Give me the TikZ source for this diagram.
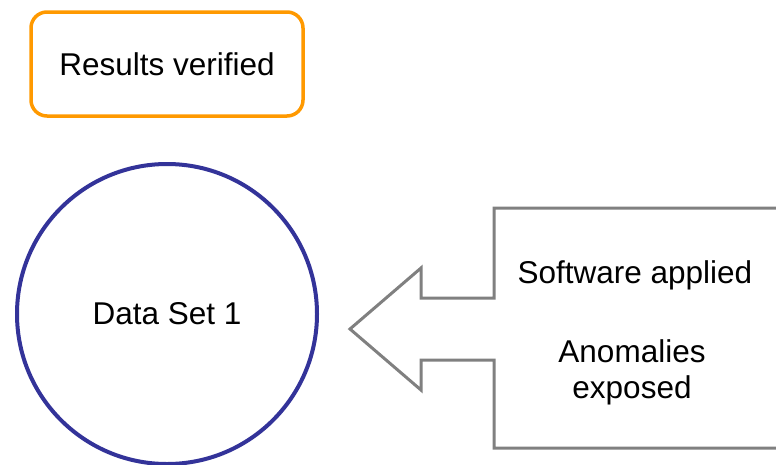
\documentclass[tikz,border=0pt]{standalone}
\usepackage{fontspec}
\setmainfont{Liberation Sans}
\definecolor{resultorange}{HTML}{FF9900}
\definecolor{setblue}{HTML}{333399}
\definecolor{calloutgray}{HTML}{808080}

\begin{document}
\begin{tikzpicture}[x=1pt, y=-1pt, font=\fontsize{31.5}{36}\selectfont]
		%%%%% START %%%%%
		\useasboundingbox (0, 0) rectangle (776, 464);
		\clip (0, 0) rectangle (776, 464);
		
		\node[draw=resultorange, line width=3.5pt, rounded corners=16pt, minimum width=272pt, minimum height=104pt, inner sep=0pt] (verified) at (167, 64) {Results verified};
		
		\node[circle, draw=setblue, line width=4pt, minimum size=300pt, inner sep=0pt] (dataset) at (167, 314) {Data Set 1};
		
		\draw[line width=3pt, color=calloutgray] (790, 208) -- (494, 208) -- (494, 298) -- (421, 298) -- (421, 268) -- (350, 329) -- (421, 390) -- (421, 360) -- (494, 360) -- (494, 448) -- (790, 448);
		
		\node[anchor=base] (applied) at (635, 283) {Software applied};
		\node[align=center] (exposed) at (632, 372) {Anomalies\\exposed};
		%%%%% END %%%%%
	\end{tikzpicture}
\end{document}
